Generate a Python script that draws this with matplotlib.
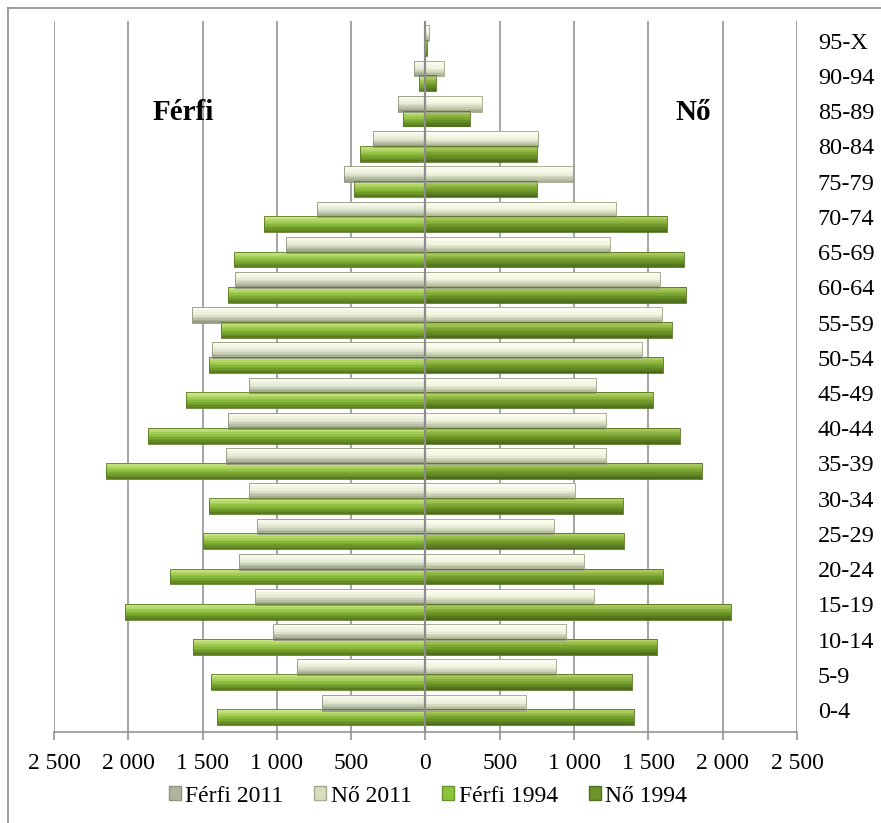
import numpy as np
import matplotlib
matplotlib.use("Agg")
import matplotlib.pyplot as plt
from matplotlib.patches import Patch
from matplotlib.lines import Line2D
from matplotlib.colors import to_rgb

# ---------------- data ----------------
age_groups = ["0-4", "5-9", "10-14", "15-19", "20-24", "25-29", "30-34", "35-39",
              "40-44", "45-49", "50-54", "55-59", "60-64", "65-69", "70-74",
              "75-79", "80-84", "85-89", "90-94", "95-X"]
ferfi_2011 = [696, 864, 1024, 1145, 1252, 1133, 1185, 1342, 1330, 1185, 1438, 1572,
              1279, 938, 732, 546, 355, 183, 77, 12]
no_2011 = [676, 878, 943, 1133, 1068, 862, 1008, 1214, 1214, 1147, 1456, 1593,
           1577, 1243, 1283, 995, 754, 380, 122, 25]
ferfi_1994 = [1402, 1443, 1562, 2019, 1718, 1494, 1454, 2153, 1868, 1615, 1454, 1373,
              1330, 1292, 1088, 479, 438, 153, 42, 6]
no_1994 = [1404, 1393, 1555, 2054, 1595, 1337, 1326, 1864, 1716, 1528, 1595, 1662,
           1756, 1740, 1624, 748, 748, 301, 73, 10]
tick_values = [-2500, -2000, -1500, -1000, -500, 0, 500, 1000, 1500, 2000, 2500]
tick_labels = ["2 500", "2 000", "1 500", "1 000", "500", "0", "500", "1 000",
               "1 500", "2 000", "2 500"]
legend_labels = ["Férfi 2011", "Nő 2011", "Férfi 1994", "Nő 1994"]

# ---------------- style ----------------
W, H = 881, 823
fig = plt.figure(figsize=(W / 100, H / 100), dpi=100)
serif = ["Liberation Serif", "DejaVu Serif"]
plt.rcParams["font.family"] = serif

ax = fig.add_axes([54 / W, 1 - 732 / H, (797 - 54) / W, (732 - 21) / H])

y = np.arange(len(age_groups))
bh = 0.45
off = 0.21


def grad_bar(yc, widths, top_col, mid_col, bot_col, n=10, edge="#7a7a6a"):
    tc, mc, bc = np.array(to_rgb(top_col)), np.array(to_rgb(mid_col)), np.array(to_rgb(bot_col))
    for i in range(n):
        t = i / (n - 1)
        if t < 0.5:
            c = tc + (mc - tc) * (t / 0.5)
        else:
            c = mc + (bc - mc) * ((t - 0.5) / 0.5)
        sh = bh / n
        ycent = yc + bh / 2 - sh * (i + 0.5)
        ax.barh(ycent, widths, height=sh * 1.02, color=c, linewidth=0, zorder=3)
    ax.barh(yc, widths, height=bh, facecolor="none", edgecolor=edge,
            linewidth=0.6, zorder=4)


m11 = -np.array(ferfi_2011)
f11 = np.array(no_2011)
m94 = -np.array(ferfi_1994)
f94 = np.array(no_1994)

# 1994 (lower bar in each group)
grad_bar(y - off, m94, "#cfe88a", "#8dbf3c", "#5a7d1f", edge="#5c7a25")
grad_bar(y - off, f94, "#b5d467", "#77a22e", "#4e6d1a", edge="#52701f")
# 2011 (upper bar in each group)
grad_bar(y + off, m11, "#fdfff2", "#e3e9d2", "#959c83", edge="#8e947e")
grad_bar(y + off, f11, "#fdfff2", "#eef3dc", "#a6ae8c", edge="#9aa184")

ax.set_xlim(-2500, 2500)
ax.set_ylim(-0.625, 19.56)

# grid
for v in tick_values:
    ax.axvline(v, color="#8c8c8c", linewidth=1.1, zorder=1)
ax.axvline(0, color="#8c8c8c", linewidth=1.6, zorder=5)

ax.set_xticks(tick_values)
ax.set_xticklabels(tick_labels, fontsize=17)
ax.tick_params(axis="x", length=6, width=1.1, color="#8c8c8c", pad=9)
ax.set_yticks(y)
ax.set_yticklabels(age_groups, fontsize=17.5)
ax.yaxis.tick_right()
ax.tick_params(axis="y", length=0, pad=15)
for lab in ax.get_yticklabels():
    lab.set_horizontalalignment("left")

for s in ["top", "left", "right"]:
    ax.spines[s].set_visible(False)
ax.spines["bottom"].set_color("#8c8c8c")
ax.spines["bottom"].set_linewidth(1.1)

ax.text(-1632, 16.95, "Férfi", fontsize=21, fontweight="bold", ha="center", va="center")
ax.text(1800, 16.95, "Nő", fontsize=21, fontweight="bold", ha="center", va="center")

# outer frame
fig.add_artist(Line2D([8 / W, 8 / W], [0, 1 - 8 / H], transform=fig.transFigure,
                      color="#8c8c8c", linewidth=1.2))
fig.add_artist(Line2D([8 / W, 1], [1 - 8 / H, 1 - 8 / H], transform=fig.transFigure,
                      color="#8c8c8c", linewidth=1.2))

handles = [Patch(facecolor="#b0b59e", edgecolor="#8e947e"),
           Patch(facecolor="#d6dfbd", edgecolor="#a3ab8a"),
           Patch(facecolor="#8cc53c", edgecolor="#6a922a"),
           Patch(facecolor="#6c9329", edgecolor="#52701f")]
fig.legend(handles, legend_labels, loc="center", bbox_to_anchor=(428 / W, 1 - 796 / H),
           ncol=4, frameon=False, fontsize=17, handlelength=0.5, handleheight=0.5,
           handletextpad=0.2, columnspacing=1.3)

fig.savefig("out.png", dpi=100)
